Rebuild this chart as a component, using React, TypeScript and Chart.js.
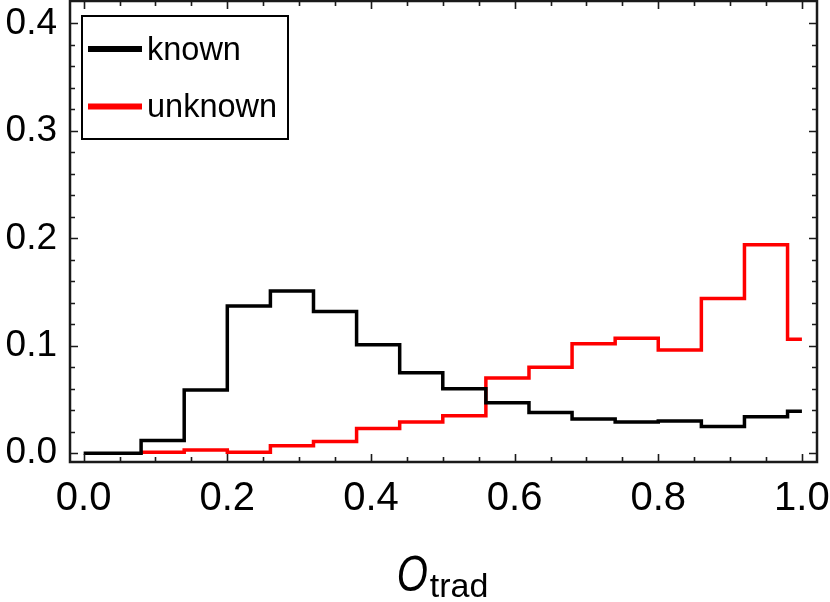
import React, { useEffect, useRef } from "react";
import { Chart, registerables } from "chart.js";

Chart.register(...registerables);

// Histogram bin edges (shared by both series)
const binEdges = [0, 0.08, 0.14, 0.2, 0.26, 0.32, 0.38, 0.44, 0.5, 0.56, 0.62, 0.68, 0.74, 0.8, 0.86, 0.92, 0.98, 1.0];

// "known" starts at edge 0
const knownValues = [0.0, 0.012, 0.059, 0.137, 0.151, 0.132, 0.101, 0.075, 0.060, 0.047, 0.038, 0.032, 0.029, 0.030, 0.025, 0.034, 0.039];
const knownStart = 0;

// "unknown" starts at edge 1 (0.08)
const unknownValues = [0.001, 0.003, 0.001, 0.007, 0.011, 0.023, 0.029, 0.035, 0.070, 0.080, 0.102, 0.107, 0.096, 0.144, 0.194, 0.106];
const unknownStart = 1;

const seriesLabels = ["known", "unknown"];
const seriesColors = ["#000000", "#ff0000"];

const xTickValues = [0, 0.2, 0.4, 0.6, 0.8, 1.0];
const xMinorTicks = [0.05, 0.1, 0.15, 0.25, 0.3, 0.35, 0.45, 0.5, 0.55, 0.65, 0.7, 0.75, 0.85, 0.9, 0.95];
const yTickValues = [0, 0.1, 0.2, 0.3, 0.4];
const yMinorTicks = [0.02, 0.04, 0.06, 0.08, 0.12, 0.14, 0.16, 0.18, 0.22, 0.24, 0.26, 0.28, 0.32, 0.34, 0.36, 0.38];

const xRange = [-0.019, 1.021];
const yRange = [-0.0081, 0.4208];

function stepPoints(edges: number[], values: number[], start: number) {
  const pts = values.map((v, i) => ({ x: edges[start + i], y: v }));
  pts.push({ x: edges[start + values.length], y: values[values.length - 1] });
  return pts;
}

const FONT = "'Liberation Sans', Arial, Helvetica, sans-serif";

const decorPlugin = {
  id: "decor",
  afterDraw(chart: any) {
    const { ctx, chartArea } = chart;
    const xs = chart.scales.x;
    const ys = chart.scales.y;
    const { left, right, top, bottom } = chartArea;
    ctx.save();
    ctx.strokeStyle = "#1a1a1a";
    ctx.lineWidth = 1.6;
    const majorLen = 8;
    const minorLen = 5;
    ctx.beginPath();
    const xt = (v: number, len: number) => {
      const px = Math.round(xs.getPixelForValue(v)) + 0.5;
      ctx.moveTo(px, bottom);
      ctx.lineTo(px, bottom - len);
      ctx.moveTo(px, top);
      ctx.lineTo(px, top + len);
    };
    const yt = (v: number, len: number) => {
      const py = Math.round(ys.getPixelForValue(v)) + 0.5;
      ctx.moveTo(left, py);
      ctx.lineTo(left + len, py);
      ctx.moveTo(right, py);
      ctx.lineTo(right - len, py);
    };
    xTickValues.forEach((v) => xt(v, majorLen));
    xMinorTicks.forEach((v) => xt(v, minorLen));
    yTickValues.forEach((v) => yt(v, majorLen));
    yMinorTicks.forEach((v) => yt(v, minorLen));
    ctx.stroke();

    // frame
    ctx.lineWidth = 2.5;
    ctx.strokeStyle = "#1a1a1a";
    ctx.strokeRect(left, top, right - left, bottom - top);

    // legend
    const lx = left + 12;
    const ly = top + 15;
    const lw = 206;
    const lh = 123;
    ctx.fillStyle = "#ffffff";
    ctx.fillRect(lx, ly, lw, lh);
    ctx.lineWidth = 2;
    ctx.strokeStyle = "#000000";
    ctx.strokeRect(lx, ly, lw, lh);
    chart.data.datasets.forEach((ds: any, i: number) => {
      const cy = ly + 33 + i * 57.5;
      ctx.strokeStyle = ds.borderColor;
      ctx.lineWidth = 6;
      ctx.beginPath();
      ctx.moveTo(lx + 6, cy);
      ctx.lineTo(lx + 60, cy);
      ctx.stroke();
      ctx.fillStyle = "#000000";
      ctx.font = `32.5px ${FONT}`;
      ctx.textBaseline = "alphabetic";
      ctx.textAlign = "left";
      ctx.fillText(ds.label, lx + 65, cy + 10.5);
    });

    // axis title: O_trad
    const cx = (left + right) / 2;
    ctx.fillStyle = "#000000";
    ctx.textBaseline = "alphabetic";
    ctx.textAlign = "left";
    ctx.font = `italic 50px ${FONT}`;
    const oW = ctx.measureText("O").width * 0.8;
    ctx.font = `34px ${FONT}`;
    const sW = ctx.measureText("trad").width;
    const total = oW + 2 + sW;
    const startX = cx - total / 2 - 1;
    ctx.save();
    ctx.translate(startX, 591);
    ctx.scale(0.8, 1);
    ctx.font = `italic 50px ${FONT}`;
    ctx.fillText("O", 0, 0);
    ctx.restore();
    ctx.font = `34px ${FONT}`;
    ctx.fillText("trad", startX + oW + 2, 597);
    ctx.restore();
  },
};

export default function App() {
  const ref = useRef<HTMLCanvasElement | null>(null);
  useEffect(() => {
    document.body.style.margin = "0";
    const canvas = ref.current;
    if (!canvas) return;
    const chart = new Chart(canvas, {
      type: "line",
      data: {
        datasets: [
          {
            label: seriesLabels[0],
            data: stepPoints(binEdges, knownValues, knownStart),
            borderColor: seriesColors[0],
            borderWidth: 3.5,
            stepped: "before",
            pointRadius: 0,
            fill: false,
          },
          {
            label: seriesLabels[1],
            data: stepPoints(binEdges, unknownValues, unknownStart),
            borderColor: seriesColors[1],
            borderWidth: 3.5,
            stepped: "before",
            pointRadius: 0,
            fill: false,
          },
        ],
      },
      options: {
        animation: false,
        responsive: false,
        devicePixelRatio: 1,
        layout: { padding: { top: 1, right: 13, left: 0, bottom: 0 } },
        plugins: { legend: { display: false }, tooltip: { enabled: false } },
        scales: {
          x: {
            type: "linear",
            min: xRange[0],
            max: xRange[1],
            grid: { display: false, drawTicks: false },
            border: { display: false },
            afterBuildTicks: (s: any) => {
              s.ticks = xTickValues.map((v) => ({ value: v }));
            },
            afterFit: (s: any) => {
              s.height = 140;
              s.paddingLeft = 0;
              s.paddingRight = 0;
            },
            ticks: {
              padding: 13,
              color: "#000",
              font: { family: FONT, size: 40 },
              maxRotation: 0,
              autoSkip: false,
              callback: (v: any) => Number(v).toFixed(1),
            },
          },
          y: {
            type: "linear",
            min: yRange[0],
            max: yRange[1],
            grid: { display: false, drawTicks: false },
            border: { display: false },
            afterBuildTicks: (s: any) => {
              s.ticks = yTickValues.map((v) => ({ value: v }));
            },
            afterFit: (s: any) => {
              s.width = 70;
              s.paddingTop = 0;
              s.paddingBottom = 0;
            },
            ticks: {
              padding: 13,
              color: "#000",
              font: { family: FONT, size: 37 },
              autoSkip: false,
              callback: (v: any) => Number(v).toFixed(1),
            },
          },
        },
      },
      plugins: [decorPlugin],
    } as any);
    return () => chart.destroy();
  }, []);
  return <canvas ref={ref} width={830} height={602} style={{ display: "block", width: 830, height: 602 }} />;
}
